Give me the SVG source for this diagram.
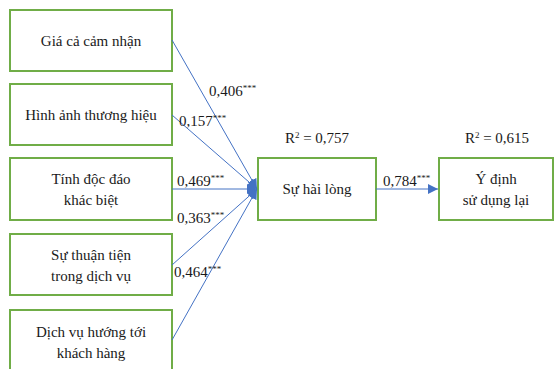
<svg xmlns="http://www.w3.org/2000/svg" width="554" height="369" viewBox="0 0 554 369">
<defs>
<style>
.box{fill:#fff;stroke:#70ad47;stroke-width:2}
text{font-family:'Liberation Serif','Times New Roman',Times,serif;font-size:15px;fill:#1a1a1a}
.t{text-anchor:middle}
.s{font-size:9px}
.c{stroke:#4472c4;stroke-width:1;fill:none}
</style>
<marker id="ah" viewBox="0 0 10 10" refX="10" refY="5" markerWidth="10" markerHeight="10" markerUnits="userSpaceOnUse" orient="auto">
<path d="M0,0 L10,5 L0,10 Z" fill="#4472c4"/>
</marker>
</defs>
<rect width="554" height="369" fill="#fff"/>
<g id="n1"><rect class="box" x="10" y="10" width="162" height="61"/><text class="t" x="91" y="46">Giá cả cảm nhận</text></g>
<g id="n2"><rect class="box" x="10" y="84" width="162" height="61"/><text class="t" x="91" y="120">Hình ảnh thương hiệu</text></g>
<g id="n3"><rect class="box" x="10" y="158" width="162" height="62"/><text class="t" x="91" y="184">Tính độc đáo</text><text class="t" x="91" y="205">khác biệt</text></g>
<g id="n4"><rect class="box" x="10" y="234" width="162" height="61"/><text class="t" x="91" y="260">Sự thuận tiện</text><text class="t" x="91" y="281">trong dịch vụ</text></g>
<g id="n5"><rect class="box" x="10" y="310" width="162" height="70"/><text class="t" x="91" y="337">Dịch vụ hướng tới</text><text class="t" x="91" y="358">khách hàng</text></g>
<g id="n6"><rect class="box" x="258" y="158" width="118" height="62"/><text class="t" x="317" y="194">Sự hài lòng</text><text class="t" x="317" y="143">R<tspan class="s" dy="-5">2</tspan><tspan dy="5"> = 0,757</tspan></text></g>
<g id="n7"><rect class="box" x="439" y="158" width="114" height="62"/><text class="t" x="496" y="184">Ý định</text><text class="t" x="496" y="205">sử dụng lại</text><text class="t" x="497" y="143">R<tspan class="s" dy="-5">2</tspan><tspan dy="5"> = 0,615</tspan></text></g>
<g id="connectors">
<line class="c" x1="172" y1="40" x2="257" y2="189" marker-end="url(#ah)"/>
<line class="c" x1="172" y1="115" x2="257" y2="189" marker-end="url(#ah)"/>
<line class="c" x1="172" y1="189" x2="257" y2="189" marker-end="url(#ah)"/>
<line class="c" x1="172" y1="265" x2="257" y2="189" marker-end="url(#ah)"/>
<line class="c" x1="172" y1="340" x2="257" y2="189" marker-end="url(#ah)"/>
<line class="c" x1="376" y1="189" x2="438" y2="189" marker-end="url(#ah)"/>
<text x="209" y="96">0,406<tspan class="s" dy="-5">***</tspan></text>
<text x="179" y="126">0,157<tspan class="s" dy="-5">***</tspan></text>
<text x="177" y="186">0,469<tspan class="s" dy="-5">***</tspan></text>
<text x="177" y="223">0,363<tspan class="s" dy="-5">***</tspan></text>
<text x="174" y="277">0,464<tspan class="s" dy="-5">***</tspan></text>
<text x="383" y="186">0,784<tspan class="s" dy="-5">***</tspan></text>
</g>
</svg>
